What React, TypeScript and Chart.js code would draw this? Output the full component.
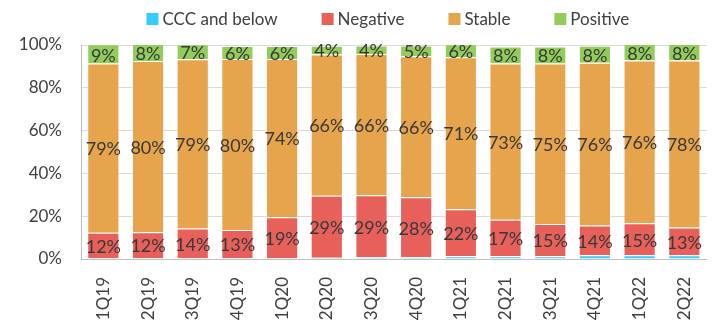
import React, { useEffect, useRef } from "react";
import { Chart, registerables } from "chart.js";

Chart.register(...registerables);

const categories = ["1Q19", "2Q19", "3Q19", "4Q19", "1Q20", "2Q20", "3Q20", "4Q20", "1Q21", "2Q21", "3Q21", "4Q21", "1Q22", "2Q22"];
const cccValues = [0.3, 0.5, 0.3, 0.5, 0.5, 0.6, 0.8, 0.8, 1.3, 1.3, 1.3, 1.7, 1.7, 1.7];
const negativeValues = [12, 12, 14, 13, 19, 29, 29, 28, 22, 17, 15, 14, 15, 13];
const stableValues = [79, 80, 79, 80, 74, 66, 66, 66, 71, 73, 75, 76, 76, 78];
const positiveValues = [9, 8, 7, 6, 6, 4, 4, 5, 6, 8, 8, 8, 8, 8];
const yTicks = [0, 20, 40, 60, 80, 100];

const FONT = "Lato, 'Open Sans', sans-serif";
const TEXT = "#404040";

const labelPlugin = {
  id: "segLabels",
  afterDatasetsDraw(chart: any) {
    const ctx = chart.ctx;
    ctx.save();
    ctx.font = `18px ${FONT}`;
    ctx.fillStyle = "#383838";
    ctx.textAlign = "center";
    ctx.textBaseline = "middle";
    chart.data.datasets.forEach((ds: any, di: number) => {
      if (di === 0) return;
      const meta = chart.getDatasetMeta(di);
      meta.data.forEach((el: any, i: number) => {
        const p = el.getProps(["x", "y", "base"], true);
        const top = Math.max(p.y, chart.chartArea.top);
        const cy = (top + p.base) / 2;
        ctx.fillText(ds.data[i] + "%", p.x, cy + 1.5);
      });
    });
    ctx.restore();
  },
};

const legendPlugin = {
  id: "customLegend",
  afterDraw(chart: any) {
    const ctx = chart.ctx;
    ctx.save();
    ctx.font = `17px ${FONT}`;
    ctx.textBaseline = "middle";
    ctx.textAlign = "left";
    const box = 12;
    const gapText = 4;
    const gapItem = 44;
    const items = chart.data.datasets.map((d: any) => ({
      label: d.label,
      color: d.backgroundColor,
      w: box + gapText + ctx.measureText(d.label).width,
    }));
    const total = items.reduce((s: number, it: any) => s + it.w, 0) + gapItem * (items.length - 1);
    const center = (chart.chartArea.left + chart.chartArea.right) / 2 - 6;
    let x = center - total / 2;
    const y = 19;
    items.forEach((it: any) => {
      ctx.fillStyle = it.color;
      ctx.fillRect(x, y - box / 2, box, box);
      ctx.fillStyle = TEXT;
      ctx.fillText(it.label, x + box + gapText, y + 1);
      x += it.w + gapItem;
    });
    ctx.restore();
  },
};

export default function App() {
  const ref = useRef<HTMLCanvasElement>(null);
  useEffect(() => {
    document.body.style.margin = "0";
    const mk = (label: string, data: number[], color: string) => ({
      label,
      data,
      backgroundColor: color,
      borderColor: "rgba(255,255,255,0.45)",
      borderWidth: 1,
      barPercentage: 0.72,
      categoryPercentage: 1,
    });
    const chart = new Chart(ref.current!, {
      type: "bar",
      data: {
        labels: categories,
        datasets: [
          mk("CCC and below", cccValues, "#33CCFF"),
          mk("Negative", negativeValues, "#E8605A"),
          mk("Stable", stableValues, "#E6A44C"),
          mk("Positive", positiveValues, "#92CD5C"),
        ],
      },
      options: {
        animation: false,
        responsive: false,
        maintainAspectRatio: false,
        layout: { padding: { top: 45, right: 8, left: 0, bottom: 0 } },
        plugins: { legend: { display: false }, tooltip: { enabled: false } },
        scales: {
          x: {
            stacked: true,
            grid: { display: false },
            border: { display: true, color: "#BFBFBF", width: 1 },
            ticks: {
              color: TEXT,
              font: { family: FONT, size: 17 },
              minRotation: 90,
              maxRotation: 90,
              padding: 10,
              autoSkip: false,
            },
            afterFit(scale: any) {
              scale.height = 62;
            },
          },
          y: {
            stacked: true,
            min: 0,
            max: 100,
            afterBuildTicks(scale: any) {
              scale.ticks = yTicks.map((v) => ({ value: v }));
            },
            grid: { color: "#D9D9D9", drawTicks: false },
            border: { display: true, color: "#BFBFBF", width: 1 },
            ticks: {
              color: TEXT,
              font: { family: FONT, size: 17 },
              padding: 19,
              callback: (v: any) => v + "%",
            },
            afterFit(scale: any) {
              scale.width = 81;
            },
          },
        },
      },
      plugins: [labelPlugin, legendPlugin],
    });
    return () => chart.destroy();
  }, []);
  return <canvas ref={ref} width={715} height={321} style={{ display: "block" }} />;
}
